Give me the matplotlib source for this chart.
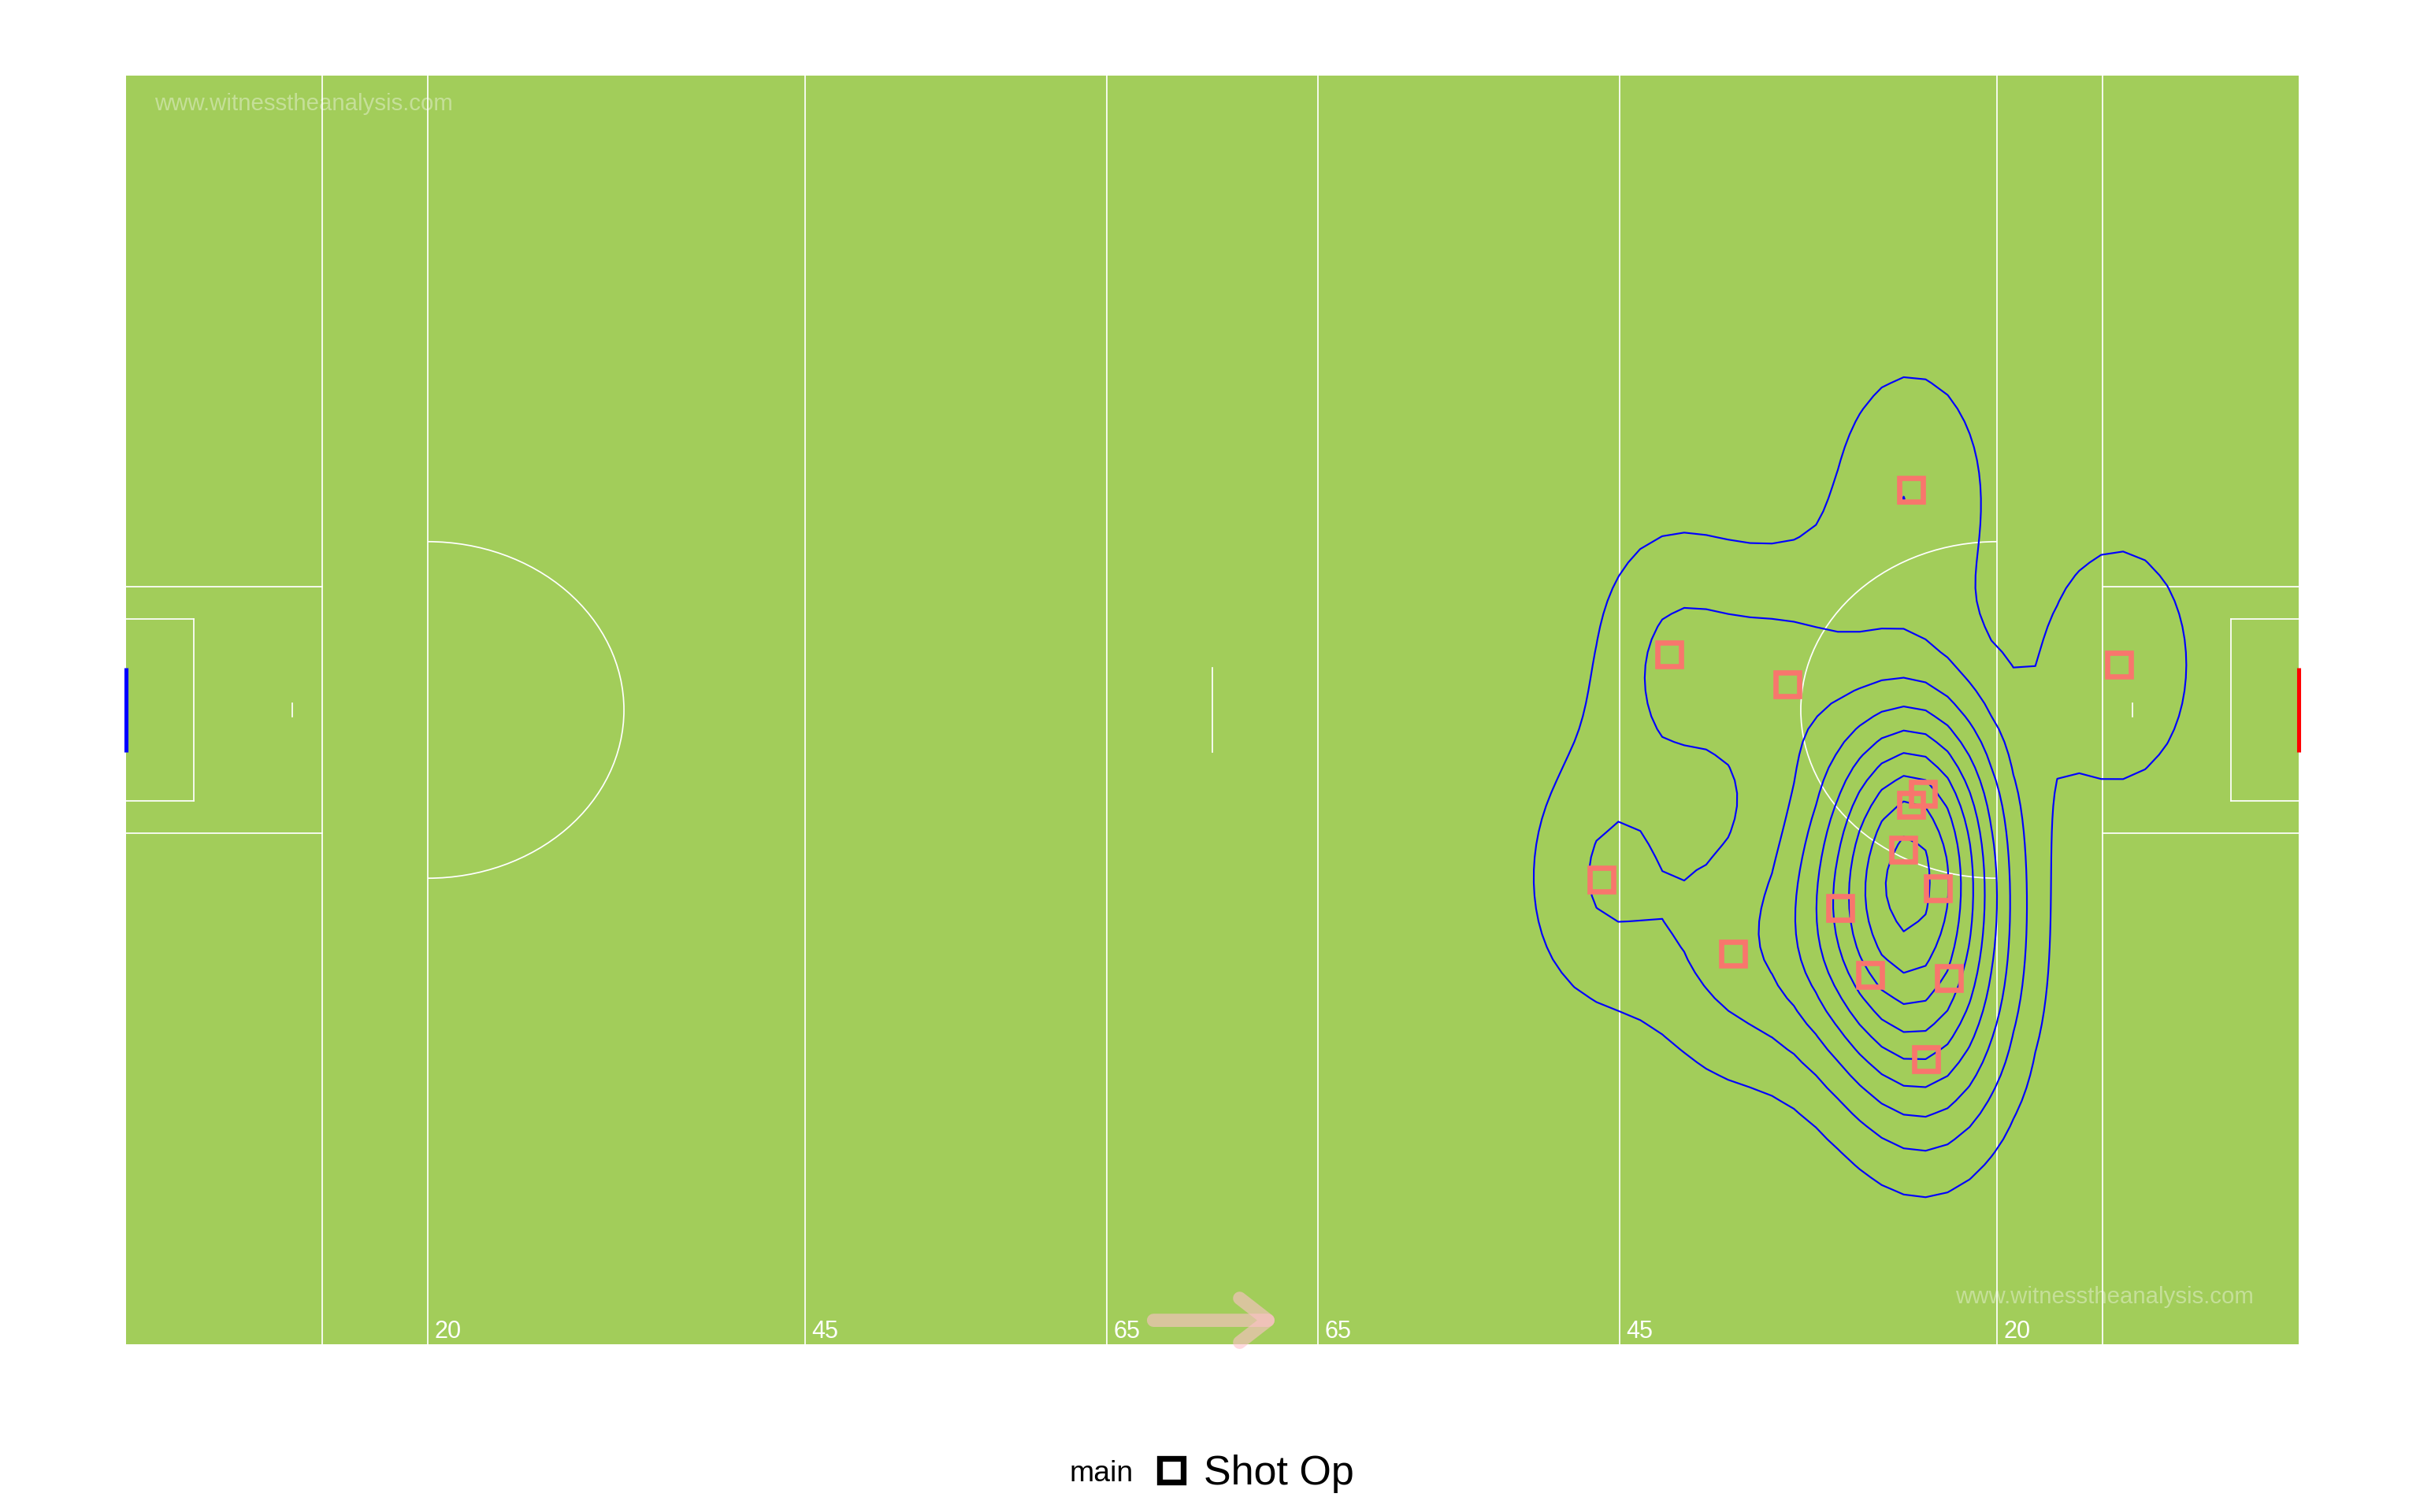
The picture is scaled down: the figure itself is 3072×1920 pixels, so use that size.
import numpy as np
import matplotlib
matplotlib.use("Agg")
import matplotlib.pyplot as plt
from matplotlib.patches import Rectangle, Arc
from matplotlib.lines import Line2D

plt.rcParams['font.family'] = ['Liberation Sans', 'DejaVu Sans']

# --- pitch (metres) ---
PITCH_L = 144
PITCH_W = 98
line_marks = [13, 20, 45, 65]          # lines measured from each end
mark_labels = ["20", "45", "65"]       # labelled lines
GOAL_W = 6.5
SMALL_D, SMALL_W = 4.5, 14
LARGE_D, LARGE_W = 13, 19
ARC_R = 13
PEN_SPOT = 11

# --- shots (x along pitch, y across) ---
shot_x = [118.3, 102.3, 110.1, 132.1, 97.8, 106.5, 113.6, 115.6, 119.1,
          118.3, 117.8, 120.1, 120.8, 119.3]
shot_y = [66.0, 53.3, 51.0, 52.5, 35.9, 30.2, 33.7, 28.5, 42.5,
          41.7, 38.2, 35.2, 28.3, 22.0]
shot_type = "Shot Op"
legend_title = "main"
watermark = "www.witnesstheanalysis.com"

GREEN = "#A2CD5A"
SHOT_COL = "#F8766D"


def bandwidth_nrd(v):
    q1, q3 = np.quantile(v, [0.25, 0.75])
    h = (q3 - q1) / 1.34
    return 4 * 1.06 * min(np.std(v, ddof=1), h) * len(v) ** (-1 / 5)


def kde2d(x, y, n, lims):
    hx, hy = bandwidth_nrd(x) / 4, bandwidth_nrd(y) / 4
    gx = np.linspace(lims[0], lims[1], n)
    gy = np.linspace(lims[2], lims[3], n)
    ax_ = (gx[:, None] - x[None, :]) / hx
    ay_ = (gy[:, None] - y[None, :]) / hy
    dx = np.exp(-0.5 * ax_ ** 2) / np.sqrt(2 * np.pi)
    dy = np.exp(-0.5 * ay_ ** 2) / np.sqrt(2 * np.pi)
    z = dx @ dy.T / (len(x) * hx * hy)
    return gx, gy, z


def pretty(lo, hi, n=10):
    # same rule as R's pretty()
    h, h5 = 1.5, 0.5 + 1.5 * 1.5
    cell = (hi - lo) / n
    base = 10 ** np.floor(np.log10(cell))
    unit = base
    if 2 * base - cell < h * (cell - unit):
        unit = 2 * base
        if 5 * base - cell < h5 * (cell - unit):
            unit = 5 * base
            if 10 * base - cell < h * (cell - unit):
                unit = 10 * base
    ns = np.floor(lo / unit + 1e-7)
    nu = np.ceil(hi / unit - 1e-7)
    return np.arange(ns, nu + 1) * unit


fig = plt.figure(figsize=(16, 10), dpi=192)
ax = fig.add_axes([160 / 3072, 1 - 1707 / 1920, 2758 / 3072, 1611 / 1920])
ax.set_xlim(0, PITCH_L)
ax.set_ylim(0, PITCH_W)
ax.axis("off")

# pitch
ax.add_patch(Rectangle((0, 0), PITCH_L, PITCH_W, color=GREEN, zorder=0))
lw = 0.65
mid = PITCH_W / 2
for d in line_marks:
    for xl in (d, PITCH_L - d):
        ax.plot([xl, xl], [0, PITCH_W], color="white", lw=lw, zorder=1)
for end, sgn in ((0, 1), (PITCH_L, -1)):
    # large rectangle
    for yy in (mid - LARGE_W / 2, mid + LARGE_W / 2):
        ax.plot([end, end + sgn * LARGE_D], [yy, yy], color="white", lw=lw, zorder=1)
    # small rectangle
    for yy in (mid - SMALL_W / 2, mid + SMALL_W / 2):
        ax.plot([end, end + sgn * SMALL_D], [yy, yy], color="white", lw=lw, zorder=1)
    ax.plot([end + sgn * SMALL_D] * 2, [mid - SMALL_W / 2, mid + SMALL_W / 2],
            color="white", lw=lw, zorder=1)
    # penalty spot
    ax.plot([end + sgn * PEN_SPOT] * 2, [mid - 0.5, mid + 0.5], color="white", lw=lw, zorder=1)
    # 20m arc
    cx = end + sgn * 20
    t1, t2 = (-90, 90) if sgn == 1 else (90, 270)
    ax.add_patch(Arc((cx, mid), 2 * ARC_R, 2 * ARC_R, theta1=t1, theta2=t2,
                     color="white", lw=lw, zorder=1))
# halfway mark
ax.plot([PITCH_L / 2] * 2, [mid - GOAL_W / 2, mid + GOAL_W / 2], color="white", lw=lw, zorder=1)
# goals
ax.plot([0, 0], [mid - GOAL_W / 2, mid + GOAL_W / 2], color="blue", lw=1.9, zorder=2,
        clip_on=False, solid_capstyle="butt")
ax.plot([PITCH_L] * 2, [mid - GOAL_W / 2, mid + GOAL_W / 2], color="red", lw=1.9, zorder=2,
        clip_on=False, solid_capstyle="butt")

# line labels
for d, lab in zip(line_marks[1:], mark_labels):
    for xl in (d, PITCH_L - d):
        ax.text(xl + 0.45, 0.5, lab, color="white", fontsize=11.5, ha="left",
                va="baseline", zorder=3)

# watermarks
ax.text(1.9, 95.3, watermark, color="white", alpha=0.38, fontsize=11, ha="left",
        va="baseline", zorder=3)
ax.text(141.0, 3.16, watermark, color="white", alpha=0.38, fontsize=11, ha="right",
        va="baseline", zorder=3)

# direction arrow
ax.annotate("", xy=(76.4, 1.85), xytext=(68.1, 1.85),
            arrowprops=dict(arrowstyle="->, head_length=13.5, head_width=10.5",
                            mutation_scale=1, color="pink", alpha=0.6, lw=6.3,
                            shrinkA=0, shrinkB=0),
            zorder=3)

# density contours
sx = np.array(shot_x)
sy = np.array(shot_y)
gx, gy, z = kde2d(sx, sy, 100, [0, PITCH_L, 0, PITCH_W])
breaks = pretty(z.min(), z.max(), 10)
levels = breaks[(breaks > z.min()) & (breaks < z.max())]
ax.contour(gx, gy, z.T, levels=levels, colors="blue", linewidths=0.8, zorder=4)

# shots
ax.plot(sx, sy, ls="none", marker="s", ms=11.4, mfc="none", mec=SHOT_COL, mew=2.5, zorder=5)

# legend
handle = Line2D([], [], ls="none", marker="s", ms=11.4, mfc="none", mec="black", mew=2.75)
fig.legend(handles=[handle], labels=[shot_type], loc="center left",
           bbox_to_anchor=(0.4755, 0.0250), frameon=False, fontsize=19.5,
           handlelength=1.0, handletextpad=0.3, borderpad=0, borderaxespad=0)
fig.text(0.4420, 0.0203, legend_title, fontsize=14, va="baseline")

fig.savefig("out.png", dpi=192, facecolor="white")
